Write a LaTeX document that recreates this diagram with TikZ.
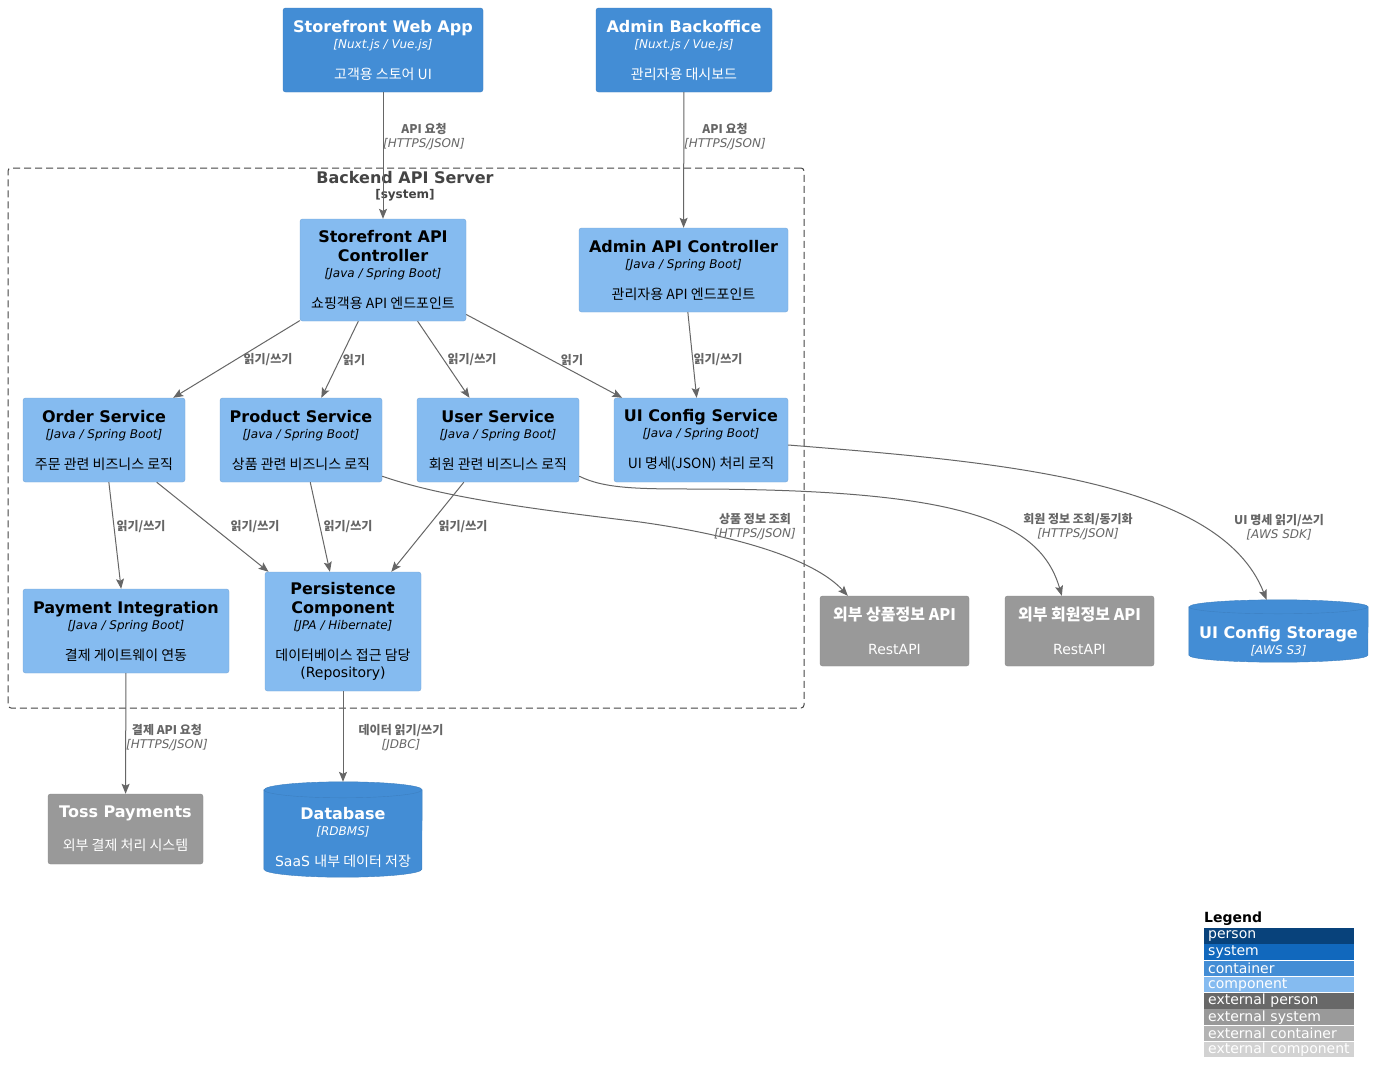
\documentclass[tikz,border=0pt]{standalone}
\usepackage{fontspec}
\setmainfont{DejaVu Sans}
\newfontfamily\kr{Noto Sans CJK KR}
\usetikzlibrary{arrows.meta,backgrounds}

\definecolor{contfill}{HTML}{438DD5}
\definecolor{contline}{HTML}{3C7FC0}
\definecolor{compfill}{HTML}{85BBF0}
\definecolor{compline}{HTML}{78A8D8}
\definecolor{extfill}{HTML}{999999}
\definecolor{extline}{HTML}{8A8A8A}
\definecolor{relgray}{HTML}{666666}
\definecolor{bndgray}{HTML}{444444}
\definecolor{lgperson}{HTML}{08427B}
\definecolor{lgsystem}{HTML}{1168BD}
\definecolor{lgextperson}{HTML}{686868}
\definecolor{lgextcont}{HTML}{B3B3B3}
\definecolor{lgextcomp}{HTML}{D2D2D2}

\newcommand\elname[1]{{\fontsize{16}{19}\selectfont\bfseries #1}}
\newcommand\eltech[1]{{\fontsize{12}{16}\selectfont\itshape [#1]}}
\newcommand\eldesc[1]{{\fontsize{14}{16}\selectfont #1}}
\newcommand\reltech[1]{{\rmfamily\mdseries\itshape [#1]}}

\tikzset{
  elem/.style={rounded corners=2.5pt, align=center, inner sep=0pt, font=\fontsize{12}{16}\selectfont},
  cont/.style={elem, fill=contfill, draw=contline, text=white},
  comp/.style={elem, fill=compfill, draw=compline, text=black},
  extsys/.style={elem, fill=extfill, draw=extline, text=white},
  cyl/.style={elem, text=white},
  sz/.style 2 args={minimum width=#1pt, minimum height=#2pt},
  rel/.style={->, draw=relgray, line width=1pt},
  lbl/.style={text=relgray, align=center, inner sep=0pt, font=\fontsize{12}{14}\selectfont\kr\bfseries},
  bnd/.style={draw=bndgray, dash pattern=on 7pt off 4pt, rounded corners=3pt, line width=1pt},
  lgrow/.style={anchor=north west, fill=#1, text=white, text width=142pt, inner xsep=4pt, inner ysep=0pt, minimum height=15.5pt, font=\fontsize{14}{16}\selectfont}
}

\begin{document}
\begin{tikzpicture}[x=1pt, y=-1pt, >={Stealth[length=10pt, width=8pt, inset=2pt]}]
    \useasboundingbox (0,0) rectangle (1384,1084);

    \node[bnd, sz={796}{540}] (backend) at (406,438) {};
    \node[text=bndgray, align=center, inner sep=0pt, font=\fontsize{12}{15}\selectfont] (backendlbl) at (405,186)
        {\elname{Backend API Server}\\{\bfseries [system]}};

    \node[cont, sz={200}{84}] (sfweb) at (383,50)
        {\elname{Storefront Web App}\\\eltech{Nuxt.js / Vue.js}\\[15pt]\eldesc{\kr 고객용 스토어 UI}};
    \node[cont, sz={176}{84}] (adminweb) at (684,50)
        {\elname{Admin Backoffice}\\\eltech{Nuxt.js / Vue.js}\\[15pt]\eldesc{\kr 관리자용 대시보드}};

    \node[comp, sz={166}{102}] (sfapi) at (383,270)
        {\elname{Storefront API}\\[3pt]\elname{Controller}\\\eltech{Java / Spring Boot}\\[15pt]\eldesc{\kr 쇼핑객용 API 엔드포인트}};
    \node[comp, sz={209}{84}] (adminapi) at (683.5,270)
        {\elname{Admin API Controller}\\\eltech{Java / Spring Boot}\\[15pt]\eldesc{\kr 관리자용 API 엔드포인트}};

    \node[comp, sz={162}{84}] (ordersvc) at (104,440)
        {\elname{Order Service}\\\eltech{Java / Spring Boot}\\[15pt]\eldesc{\kr 주문 관련 비즈니스 로직}};
    \node[comp, sz={162}{84}] (productsvc) at (301,440)
        {\elname{Product Service}\\\eltech{Java / Spring Boot}\\[15pt]\eldesc{\kr 상품 관련 비즈니스 로직}};
    \node[comp, sz={162}{84}] (usersvc) at (498,440)
        {\elname{User Service}\\\eltech{Java / Spring Boot}\\[15pt]\eldesc{\kr 회원 관련 비즈니스 로직}};
    \node[comp, sz={174}{84}] (uisvc) at (701,440)
        {\elname{UI Config Service}\\\eltech{Java / Spring Boot}\\[15pt]\eldesc{\kr UI 명세(JSON) 처리 로직}};

    \node[comp, sz={206}{84}] (payint) at (126,631)
        {\elname{Payment Integration}\\\eltech{Java / Spring Boot}\\[15pt]\eldesc{\kr 결제 게이트웨이 연동}};
    \node[comp, sz={156}{119}] (persist) at (343,631.5)
        {\elname{Persistence}\\[3pt]\elname{Component}\\\eltech{JPA / Hibernate}\\[15pt]\eldesc{\kr 데이터베이스 접근 담당}\\[1pt]\eldesc{(Repository)}};

    \node[extsys, sz={149}{70}] (prodapi) at (894.5,631)
        {\elname{\kr 외부 상품정보 API}\\[18pt]\eldesc{RestAPI}};
    \node[extsys, sz={149}{70}] (memberapi) at (1079.5,631)
        {\elname{\kr 외부 회원정보 API}\\[18pt]\eldesc{RestAPI}};
    \node[extsys, sz={155}{70}] (toss) at (125.5,829)
        {\elname{Toss Payments}\\[17pt]\eldesc{\kr 외부 결제 처리 시스템}};

    \node[cyl, sz={158}{95}] (db) at (343,829.5) {};
    \node[cyl, sz={179}{62}] (uistore) at (1278.5,631) {};
    \begin{scope}[on background layer]
        \fill[white] (0,0) rectangle (1384,1084);
        \foreach \cy/\rx/\ry in {db/79/8, uistore/89.5/7}
        {
            \filldraw[fill=contfill, draw=contline] ([yshift=-\ry pt]\cy.north west) -- ([yshift=\ry pt]\cy.south west)
                arc[start angle=180, end angle=360, x radius=\rx pt, y radius=\ry pt] -- ([yshift=-\ry pt]\cy.north east)
                arc[start angle=0, end angle=180, x radius=\rx pt, y radius=\ry pt] -- cycle;
            \draw[contline] ([yshift=-\ry pt]\cy.north west) arc[start angle=180, end angle=360, x radius=\rx pt, y radius=\ry pt];
        }
    \end{scope}
    \node[cyl] (dbtext) at ([yshift=-8pt]db.center)
        {\elname{Database}\\\eltech{RDBMS}\\[15pt]\eldesc{SaaS \kr 내부 데이터 저장}};
    \node[cyl] (uistoretext) at ([yshift=-10pt]uistore.center)
        {\elname{UI Config Storage}\\\eltech{AWS S3}};

    \draw[rel] (sfweb) -- (sfapi);
    \draw[rel] (adminweb) -- (adminapi);
    \draw[rel] (sfapi) -- (ordersvc);
    \draw[rel] (sfapi) -- (productsvc);
    \draw[rel] (sfapi) -- (usersvc);
    \draw[rel] (sfapi) -- (uisvc);
    \draw[rel] (adminapi) -- (uisvc);
    \draw[rel] (ordersvc) -- (payint);
    \draw[rel] (ordersvc) -- (persist);
    \draw[rel] (productsvc) -- (persist);
    \draw[rel] (usersvc) -- (persist);
    \draw[rel] (payint) -- (toss);
    \draw[rel] (persist) -- (db);
    \draw[rel] ([yshift=6pt]productsvc.south east) .. controls (450,500) and (560,512) .. (640,522)
        .. controls (740,536) and (815,560) .. ([xshift=28pt]prodapi.north west);
    \draw[rel] ([yshift=6pt]usersvc.south east) .. controls (605,489) and (640,489) .. (700,489)
        .. controls (960,490) and (1040,520) .. ([xshift=57pt]memberapi.north west);
    \draw[rel] ([yshift=-5pt]uisvc.east) .. controls (1000,462) and (1220,480) .. ([xshift=-12pt]uistore.north);

    \node[lbl] (lblsfweb) at (424,137) {API 요청\\\reltech{HTTPS/JSON}};
    \node[lbl] (lbladminweb) at (725,137) {API 요청\\\reltech{HTTPS/JSON}};
    \node[lbl] (lblorder) at (268,360) {읽기/쓰기};
    \node[lbl] (lblproduct) at (354,360) {읽기};
    \node[lbl] (lbluser) at (472,360) {읽기/쓰기};
    \node[lbl] (lbluisvc) at (572,360) {읽기};
    \node[lbl] (lbladminui) at (718,360) {읽기/쓰기};
    \node[lbl] (lblpay) at (141,527) {읽기/쓰기};
    \node[lbl] (lblorderdb) at (255,527) {읽기/쓰기};
    \node[lbl] (lblproddb) at (348,527) {읽기/쓰기};
    \node[lbl] (lbluserdb) at (463,527) {읽기/쓰기};
    \node[lbl] (lblprodapi) at (755,527) {상품 정보 조회\\\reltech{HTTPS/JSON}};
    \node[lbl] (lblmemberapi) at (1078,527) {회원 정보 조회/동기화\\\reltech{HTTPS/JSON}};
    \node[lbl] (lbluistore) at (1279,527) {UI 명세 읽기/쓰기\\\reltech{AWS SDK}};
    \node[lbl] (lbltoss) at (167,738) {결제 API 요청\\\reltech{HTTPS/JSON}};
    \node[lbl] (lbldb) at (401,738) {데이터 읽기/쓰기\\\reltech{JDBC}};

    \node[anchor=west, inner sep=0pt, font=\fontsize{14}{16}\selectfont\bfseries] (legendttl) at (1204,919) {Legend};
    \foreach \lgname/\lgcol [count=\i from 0] in {person/lgperson, system/lgsystem, container/contfill, component/compfill,
        external person/lgextperson, external system/extfill, external container/lgextcont, external component/lgextcomp}
    {
        \node[lgrow=\lgcol] (lg\i) at (1204,{928+16.25*\i}) {\lgname};
    }
\end{tikzpicture}
\end{document}
